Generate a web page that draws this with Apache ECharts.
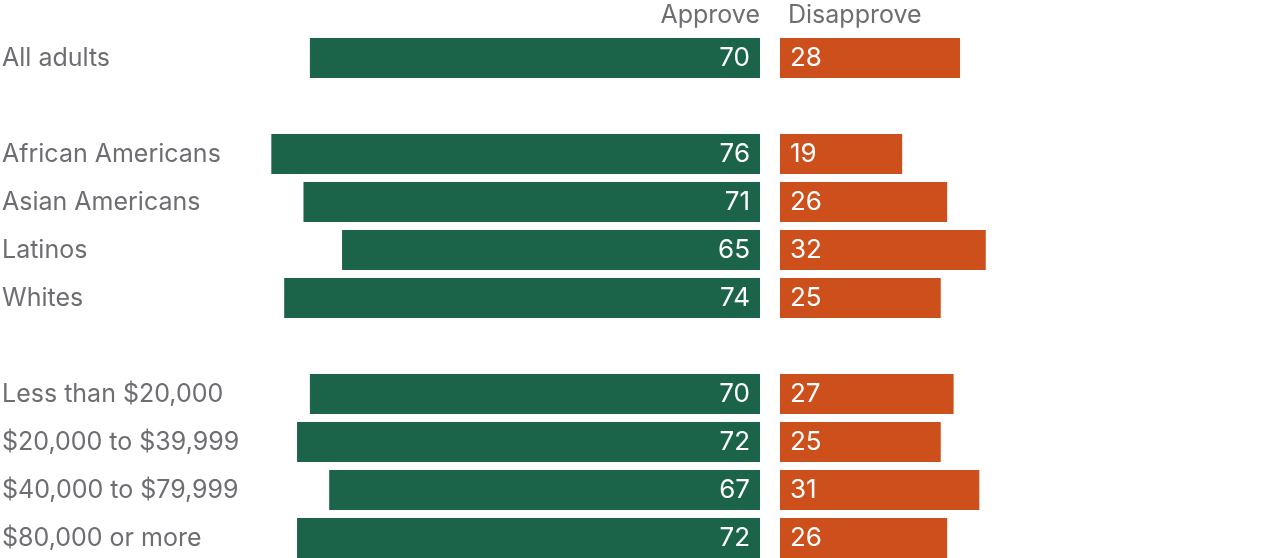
<!DOCTYPE html>
<html>
<head>
<meta charset="utf-8">
<script src="https://cdn.jsdelivr.net/npm/echarts@6/dist/echarts.min.js"></script>
<style>
  html, body { margin: 0; padding: 0; background: #fff; }
  #chart { width: 1280px; height: 558px; }
</style>
</head>
<body>
<div id="chart"></div>
<script>
// blank strings are the spacer rows between groups
var categories = ['All adults', '', 'African Americans', 'Asian Americans', 'Latinos', 'Whites', ' ',
    'Less than $20,000', '$20,000 to $39,999', '$40,000 to $79,999', '$80,000 or more'];
var approve = [70, null, 76, 71, 65, 74, null, 70, 72, 67, 72];
var disapprove = [28, null, 19, 26, 32, 25, null, 27, 25, 31, 26];

var font = 'Inter, "Open Sans", sans-serif';
var grey = '#6d6e71';
var pxPerUnit = 6.43;

var mychart = echarts.init(document.getElementById('chart'));

var option = {
    animation: false,
    textStyle: {fontFamily: font},
    title: [
        {text: 'Approve', right: 1280 - 765, top: -2,
            textStyle: {fontFamily: font, fontSize: 25, fontWeight: 'normal', color: grey}},
        {text: 'Disapprove', left: 783, top: -2,
            textStyle: {fontFamily: font, fontSize: 25, fontWeight: 'normal', color: grey}}
    ],
    grid: [
        {left: 760 - 100 * pxPerUnit, width: 100 * pxPerUnit, top: 34, height: 528, outerBoundsMode: 'none'},
        {left: 780, width: 70 * pxPerUnit, top: 34, height: 528, outerBoundsMode: 'none'}
    ],
    xAxis: [
        {gridIndex: 0, type: 'value', min: 0, max: 100, inverse: true, show: false},
        {gridIndex: 1, type: 'value', min: 0, max: 70, show: false}
    ],
    yAxis: [
        {
            gridIndex: 0, type: 'category', data: categories, inverse: true,
            axisLine: {show: false, onZero: false}, axisTick: {show: false},
            axisLabel: {
                margin: 760 - 100 * pxPerUnit - 2, align: 'left',
                padding: [2, 0, 0, 0],
                fontFamily: font, fontSize: 25, color: grey
            }
        },
        {
            gridIndex: 1, type: 'category', data: categories, inverse: true,
            axisLine: {show: false}, axisTick: {show: false}, axisLabel: {show: false}
        }
    ],
    series: [
        {
            name: 'Approve', type: 'bar', xAxisIndex: 0, yAxisIndex: 0,
            data: approve, barWidth: 40,
            itemStyle: {color: '#1b644a'},
            label: {show: true, position: 'insideRight', distance: 10, color: '#fff',
                fontFamily: font, fontSize: 26, padding: [2, 0, 0, 0]}
        },
        {
            name: 'Disapprove', type: 'bar', xAxisIndex: 1, yAxisIndex: 1,
            data: disapprove, barWidth: 40,
            itemStyle: {color: '#cc4f1c'},
            label: {show: true, position: 'insideLeft', distance: 10, color: '#fff',
                fontFamily: font, fontSize: 26, padding: [2, 0, 0, 0]}
        }
    ]
};

mychart.setOption(option);
</script>
</body>
</html>
